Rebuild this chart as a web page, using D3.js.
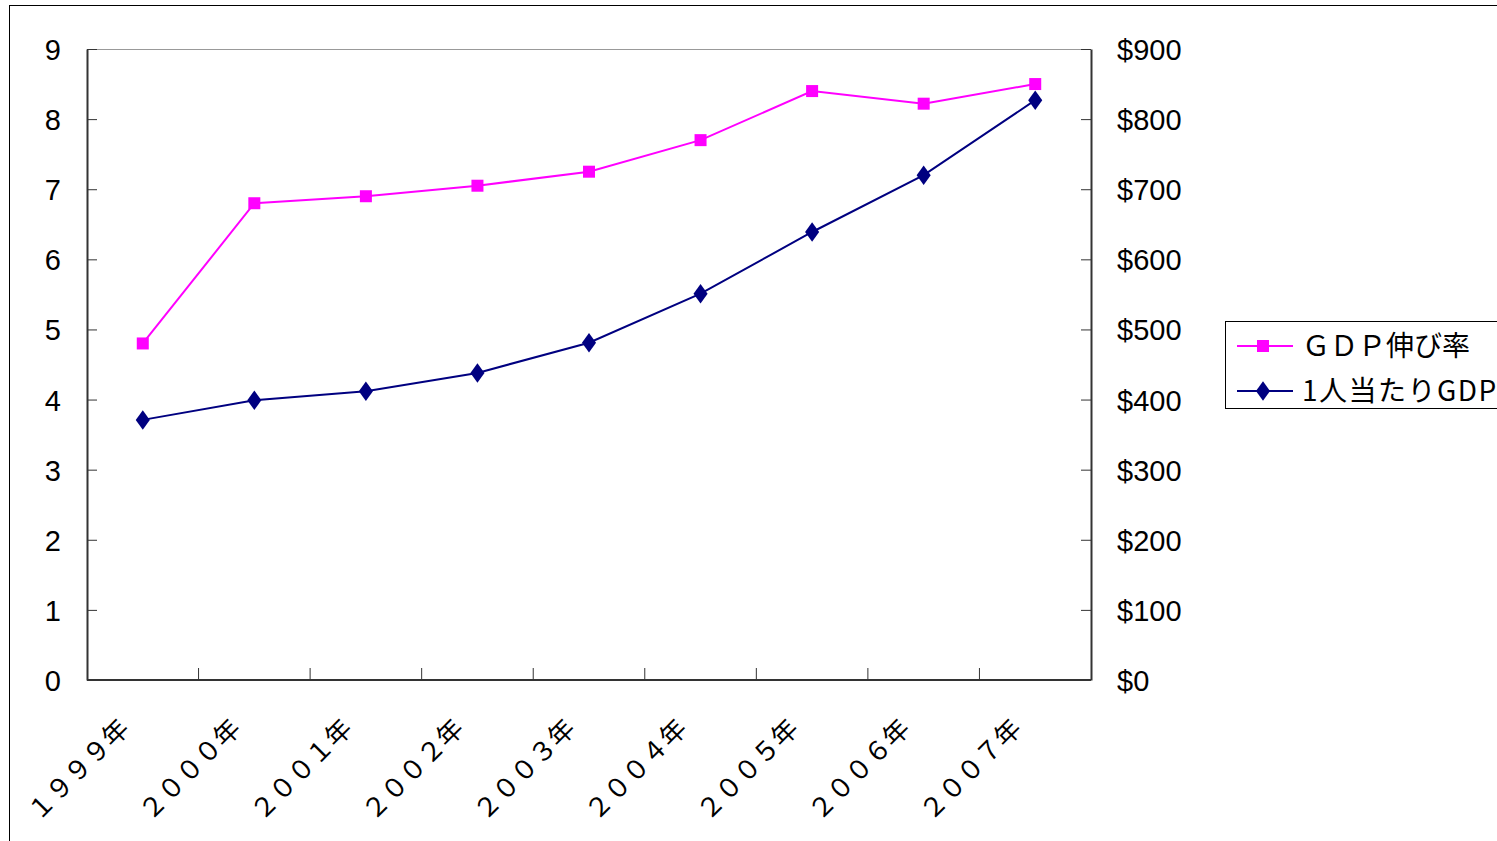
<!DOCTYPE html>
<html>
<head>
<meta charset="utf-8">
<script src="https://cdn.jsdelivr.net/npm/d3@7"></script>
<style>
body { margin: 0; background: #fff; }
svg { display: block; }
.tick text { font-family: "Liberation Sans", Arial, sans-serif; }
</style>
</head>
<body>
<svg width="1497" height="841"></svg>
<script>
var years = ["１９９９年", "２０００年", "２００１年", "２００２年", "２００３年", "２００４年", "２００５年", "２００６年", "２００７年"];
var growth = [4.8, 6.8, 6.9, 7.05, 7.25, 7.7, 8.4, 8.22, 8.5];
var perCapita = [371, 399, 412, 438, 481, 551, 639, 720, 827];
var leftTicks = [0, 1, 2, 3, 4, 5, 6, 7, 8, 9];
var rightTicks = [0, 100, 200, 300, 400, 500, 600, 700, 800, 900];
var seriesNames = ["ＧＤＰ伸び率", "1人当たりGDP"];

var svg = d3.select("svg"),
    plotL = 87, plotR = 1091, plotT = 49, plotB = 680;

// outer chart frame
svg.append("rect")
    .attr("x", 9.5).attr("y", 5.5)
    .attr("width", 1600).attr("height", 900)
    .attr("fill", "none").attr("stroke", "#000");

var x = d3.scaleBand().domain(years).range([plotL, plotR]);
var yL = d3.scaleLinear().domain([0, 9]).range([plotB, plotT]);
var yR = d3.scaleLinear().domain([0, 900]).range([plotB, plotT]);

// top border of plot area
svg.append("line")
    .attr("x1", plotL).attr("x2", plotR)
    .attr("y1", plotT + 0.5).attr("y2", plotT + 0.5)
    .attr("stroke", "#999");

var gl = svg.append("g").attr("transform", "translate(" + plotL + ",0)")
    .call(d3.axisLeft(yL).tickValues(leftTicks).tickSize(-10).tickPadding(26).tickSizeOuter(0));
gl.selectAll(".tick text").attr("font-size", 29).attr("dy", "0.36em");

var gr = svg.append("g").attr("transform", "translate(" + plotR + ",0)")
    .call(d3.axisRight(yR).tickValues(rightTicks).tickSize(-10).tickPadding(26).tickSizeOuter(0)
        .tickFormat(function(d) { return "$" + d; }));
gr.selectAll(".tick text").attr("font-size", 29).attr("dy", "0.36em");

var boundaries = years.slice(1).map(function(d) { return x(d); });
var gx = svg.append("g").attr("transform", "translate(0," + plotB + ")");
gx.append("line").attr("x1", plotL).attr("x2", plotR).attr("stroke", "#333").attr("stroke-width", 2);
gx.selectAll("line.tk").data(boundaries).enter().append("line")
    .attr("class", "tk")
    .attr("x1", function(d) { return d; }).attr("x2", function(d) { return d; })
    .attr("y1", 0).attr("y2", -12)
    .attr("stroke", "#333");

svg.selectAll("text.xl").data(years).enter().append("text")
    .attr("class", "xl")
    .attr("transform", function(d) {
        return "translate(" + (x(d) + x.bandwidth() / 2 - 12) + ",730) rotate(-45)";
    })
    .attr("text-anchor", "end")
    .attr("font-family", "'Noto Sans CJK JP', sans-serif")
    .attr("font-size", 26)
    .text(function(d) { return d; });

gl.select(".domain").attr("stroke", "#333").attr("stroke-width", 2);
gr.select(".domain").attr("stroke", "#333").attr("stroke-width", 2);
svg.selectAll(".tick line").attr("stroke", "#333");

var cx = function(d, i) { return x(years[i]) + x.bandwidth() / 2; };

svg.append("path")
    .attr("d", d3.line().x(cx).y(function(d) { return yL(d); })(growth))
    .attr("fill", "none").attr("stroke", "#ff00ff").attr("stroke-width", 2);
svg.append("path")
    .attr("d", d3.line().x(cx).y(function(d) { return yR(d); })(perCapita))
    .attr("fill", "none").attr("stroke", "#000080").attr("stroke-width", 2);

svg.selectAll("rect.sq").data(growth).enter().append("rect")
    .attr("class", "sq")
    .attr("x", function(d, i) { return cx(d, i) - 6; })
    .attr("y", function(d) { return yL(d) - 6; })
    .attr("width", 12).attr("height", 12)
    .attr("fill", "#ff00ff");

var diamond = d3.symbol().type(d3.symbolDiamond).size(110);
svg.selectAll("path.dm").data(perCapita).enter().append("path")
    .attr("class", "dm")
    .attr("d", diamond)
    .attr("transform", function(d, i) { return "translate(" + cx(d, i) + "," + yR(d) + ") scale(1.25,1)"; })
    .attr("fill", "#000080");

// legend
var lg = svg.append("g");
lg.append("rect")
    .attr("x", 1225.5).attr("y", 321.5)
    .attr("width", 300).attr("height", 87)
    .attr("fill", "#fff").attr("stroke", "#000");
var rows = [
    { name: seriesNames[0], color: "#ff00ff", y: 346, mark: "sq", sp: 0 },
    { name: seriesNames[1], color: "#000080", y: 391, mark: "dm", sp: 1.5 }
];
rows.forEach(function(r) {
    lg.append("line").attr("x1", 1237).attr("x2", 1293).attr("y1", r.y).attr("y2", r.y)
        .attr("stroke", r.color).attr("stroke-width", 2);
    if (r.mark == "sq") {
        lg.append("rect").attr("x", 1257).attr("y", r.y - 6).attr("width", 12).attr("height", 12).attr("fill", r.color);
    } else {
        lg.append("path").attr("d", diamond)
            .attr("transform", "translate(1263," + r.y + ") scale(1.25,1)").attr("fill", r.color);
    }
    lg.append("text").attr("x", 1302).attr("y", r.y)
        .attr("dy", "0.36em")
        .attr("font-family", "'Noto Sans CJK JP', sans-serif")
        .attr("font-size", 28)
        .attr("letter-spacing", r.sp)
        .text(r.name);
});
</script>
</body>
</html>
